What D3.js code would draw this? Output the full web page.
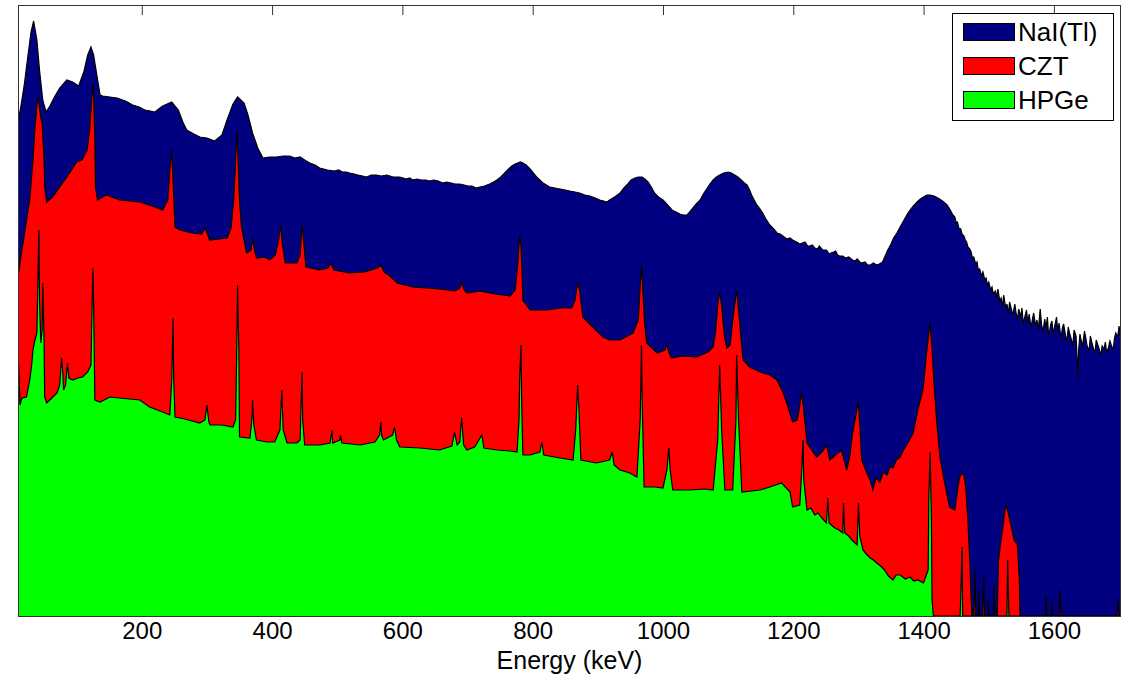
<!DOCTYPE html>
<html>
<head>
<meta charset="utf-8">
<script src="https://cdn.jsdelivr.net/npm/d3@7"></script>
<style>
  html, body { margin: 0; padding: 0; background: #fff; }
  svg { display: block; font-family: "Liberation Sans", Arial, sans-serif; }
</style>
</head>
<body>
<svg id="chart" width="1133" height="680"></svg>
<script>
// energy axis ticks (keV)
const xTicks = [200, 400, 600, 800, 1000, 1200, 1400, 1600];
const seriesNames = ["NaI(Tl)", "CZT", "HPGe"];
const seriesColors = ["#000080", "#ff0000", "#00ff00"];

// spectra: [energy keV, log10 counts]
const naiSpectrum = [
  [10, 4.93], [16, 5.16], [20, 5.33], [25, 5.59], [30, 5.84], [34, 5.95], [39, 5.76], [43, 5.46],
  [48, 5.16], [53, 5.04], [59, 5.10], [66, 5.19], [74, 5.28], [85, 5.36], [94, 5.34], [103, 5.30],
  [111, 5.44], [117, 5.61], [122, 5.69], [126, 5.61], [131, 5.41], [136, 5.21], [140, 5.20],
  [151, 5.19], [162, 5.18], [175, 5.15], [186, 5.11], [196, 5.09], [205, 5.06], [213, 5.05],
  [220, 5.04], [232, 5.10], [246, 5.14], [256, 5.06], [263, 4.94], [269, 4.86], [280, 4.82],
  [289, 4.79], [300, 4.78], [312, 4.75], [323, 4.81], [332, 4.98], [340, 5.12], [347, 5.19],
  [357, 5.13], [363, 5.01], [370, 4.83], [378, 4.68], [386, 4.58], [396, 4.59], [407, 4.59],
  [417, 4.60], [427, 4.60], [435, 4.58], [443, 4.59], [450, 4.56], [458, 4.53], [466, 4.51],
  [473, 4.48], [485, 4.46], [496, 4.45], [502, 4.46], [508, 4.44], [514, 4.44], [519, 4.43],
  [526, 4.42], [532, 4.41], [539, 4.40], [545, 4.39], [552, 4.41], [560, 4.41], [568, 4.40],
  [576, 4.41], [586, 4.39], [596, 4.39], [606, 4.37], [611, 4.38], [616, 4.36], [622, 4.37],
  [629, 4.36], [636, 4.36], [642, 4.35], [648, 4.36], [655, 4.35], [662, 4.33], [668, 4.34],
  [675, 4.33], [681, 4.32], [688, 4.32], [695, 4.31], [701, 4.30], [707, 4.30], [713, 4.28],
  [719, 4.29], [726, 4.30], [734, 4.32], [740, 4.34], [745, 4.36], [751, 4.39], [757, 4.43],
  [763, 4.47], [768, 4.50], [773, 4.52], [777, 4.53], [781, 4.54], [785, 4.53], [790, 4.51],
  [796, 4.47], [801, 4.43], [806, 4.39], [811, 4.36], [816, 4.33], [821, 4.31], [826, 4.29],
  [834, 4.28], [842, 4.27], [850, 4.26], [857, 4.25], [865, 4.24], [872, 4.23], [880, 4.21],
  [888, 4.20], [896, 4.18], [903, 4.16], [909, 4.15], [914, 4.14], [918, 4.16], [923, 4.18],
  [928, 4.20], [934, 4.23], [940, 4.28], [946, 4.32], [951, 4.36], [957, 4.38], [962, 4.39],
  [968, 4.39], [972, 4.37], [977, 4.34], [982, 4.29], [987, 4.23], [993, 4.19], [1000, 4.16],
  [1007, 4.11], [1014, 4.06], [1020, 4.04], [1026, 4.02], [1031, 4.01], [1037, 4.01],
  [1041, 4.04], [1046, 4.08], [1051, 4.12], [1057, 4.16], [1062, 4.22], [1067, 4.27],
  [1072, 4.32], [1077, 4.36], [1082, 4.39], [1087, 4.41], [1093, 4.43], [1100, 4.44],
  [1105, 4.43], [1110, 4.41], [1115, 4.39], [1120, 4.36], [1125, 4.33], [1129, 4.31],
  [1133, 4.26], [1136, 4.21], [1140, 4.16], [1144, 4.11], [1148, 4.08], [1153, 4.03],
  [1158, 3.97], [1164, 3.91], [1170, 3.87], [1175, 3.83], [1180, 3.82], [1184, 3.80],
  [1190, 3.77], [1195, 3.78], [1199, 3.76], [1205, 3.74], [1210, 3.72], [1214, 3.73],
  [1218, 3.74], [1222, 3.70], [1225, 3.70], [1229, 3.71], [1233, 3.68], [1237, 3.67],
  [1240, 3.70], [1245, 3.66], [1251, 3.66], [1255, 3.62], [1258, 3.63], [1262, 3.64],
  [1265, 3.65], [1268, 3.61], [1271, 3.60], [1276, 3.60], [1280, 3.58], [1285, 3.59],
  [1291, 3.56], [1295, 3.55], [1298, 3.57], [1302, 3.54], [1305, 3.53], [1310, 3.54],
  [1314, 3.51], [1318, 3.51], [1323, 3.53], [1328, 3.51], [1332, 3.52], [1337, 3.54],
  [1341, 3.60], [1345, 3.66], [1350, 3.72], [1354, 3.78], [1359, 3.83], [1364, 3.89],
  [1370, 3.96], [1376, 4.03], [1383, 4.09], [1390, 4.14], [1395, 4.17], [1400, 4.19],
  [1405, 4.21], [1410, 4.21], [1416, 4.20], [1422, 4.18], [1429, 4.15], [1436, 4.11],
  [1441, 4.06], [1445, 4.01], [1448, 3.99], [1450, 3.93], [1452, 3.94], [1454, 3.88],
  [1457, 3.87], [1459, 3.82], [1462, 3.80], [1464, 3.76], [1466, 3.74], [1468, 3.69],
  [1471, 3.67], [1473, 3.64], [1475, 3.58], [1477, 3.59], [1480, 3.52], [1482, 3.54],
  [1484, 3.46], [1486, 3.47], [1489, 3.40], [1491, 3.44], [1494, 3.36], [1496, 3.38],
  [1498, 3.31], [1500, 3.34], [1503, 3.26], [1505, 3.29], [1507, 3.22], [1510, 3.25],
  [1512, 3.19], [1514, 3.27], [1517, 3.15], [1519, 3.18], [1521, 3.10], [1523, 3.21],
  [1526, 3.08], [1528, 3.12], [1530, 3.02], [1532, 3.14], [1535, 3.06], [1537, 3.01],
  [1540, 3.12], [1542, 3.03], [1544, 2.96], [1546, 3.07], [1549, 2.99], [1551, 3.08],
  [1553, 2.92], [1555, 2.98], [1558, 3.06], [1560, 2.93], [1562, 3.02], [1565, 2.88],
  [1567, 2.97], [1569, 3.03], [1572, 2.90], [1574, 2.96], [1576, 2.86], [1579, 3.07],
  [1581, 2.92], [1583, 2.84], [1586, 2.97], [1588, 2.88], [1590, 2.99], [1592, 2.79],
  [1595, 2.91], [1597, 2.95], [1599, 2.82], [1601, 2.89], [1604, 2.99], [1606, 2.85],
  [1608, 2.93], [1611, 2.77], [1613, 2.88], [1615, 2.92], [1618, 2.80], [1620, 2.74],
  [1622, 2.89], [1624, 2.83], [1627, 2.76], [1629, 2.70], [1631, 2.86], [1634, 2.80],
  [1636, 2.54], [1637, 2.36], [1638, 2.66], [1640, 2.82], [1642, 2.75], [1644, 2.70],
  [1647, 2.85], [1649, 2.78], [1651, 2.70], [1654, 2.65], [1656, 2.80], [1658, 2.74],
  [1661, 2.67], [1663, 2.63], [1665, 2.76], [1667, 2.72], [1670, 2.66], [1672, 2.60],
  [1674, 2.70], [1677, 2.67], [1679, 2.74], [1681, 2.63], [1684, 2.69], [1686, 2.75],
  [1688, 2.71], [1691, 2.66], [1693, 2.78], [1695, 2.83], [1698, 2.79], [1700, 2.90],
  [1703, 2.77]
];

const cztSpectrum = [
  [10, 3.39], [16, 3.66], [22, 3.91], [28, 4.16], [33, 4.56], [36, 4.89], [39, 5.11], [40, 5.19],
  [42, 5.13], [45, 4.98], [47, 4.93], [50, 4.56], [51, 4.29], [54, 4.14], [63, 4.19], [74, 4.29],
  [85, 4.39], [92, 4.46], [100, 4.54], [108, 4.56], [116, 4.66], [120, 4.86], [123, 5.16],
  [125, 5.33], [126, 5.21], [128, 4.76], [129, 4.29], [132, 4.16], [140, 4.19], [146, 4.21],
  [166, 4.16], [197, 4.14], [220, 4.09], [232, 4.06], [240, 4.16], [243, 4.46], [246, 4.66],
  [247, 4.51], [251, 3.89], [258, 3.86], [278, 3.83], [292, 3.82], [297, 3.88], [302, 3.80],
  [304, 3.76], [331, 3.78], [337, 3.88], [341, 4.16], [344, 4.56], [346, 4.85], [347, 4.71],
  [350, 4.16], [353, 3.89], [361, 3.63], [368, 3.66], [370, 3.78], [373, 3.66], [376, 3.58],
  [389, 3.59], [396, 3.56], [405, 3.61], [410, 3.76], [413, 3.91], [416, 3.71], [420, 3.53],
  [438, 3.53], [443, 3.61], [446, 3.92], [449, 3.71], [452, 3.49], [473, 3.46], [486, 3.48],
  [490, 3.53], [495, 3.46], [519, 3.43], [542, 3.44], [562, 3.48], [567, 3.51], [572, 3.44],
  [581, 3.40], [592, 3.33], [616, 3.29], [657, 3.27], [681, 3.25], [688, 3.28], [691, 3.34],
  [694, 3.27], [699, 3.23], [719, 3.25], [742, 3.22], [765, 3.20], [773, 3.26], [777, 3.51],
  [780, 3.81], [782, 3.71], [785, 3.16], [796, 3.06], [822, 3.06], [842, 3.08], [860, 3.08],
  [865, 3.16], [869, 3.34], [872, 3.26], [877, 2.99], [892, 2.89], [908, 2.79], [918, 2.76],
  [934, 2.76], [954, 2.83], [962, 2.96], [965, 3.31], [967, 3.51], [969, 3.26], [972, 2.91],
  [975, 2.73], [991, 2.63], [1003, 2.66], [1006, 2.72], [1009, 2.64], [1013, 2.58],
  [1030, 2.60], [1052, 2.59], [1069, 2.64], [1077, 2.69], [1081, 2.86], [1084, 3.11],
  [1087, 3.24], [1090, 3.11], [1094, 2.81], [1098, 2.68], [1103, 2.71], [1107, 2.96],
  [1112, 3.21], [1113, 3.26], [1116, 3.06], [1120, 2.76], [1123, 2.56], [1133, 2.49],
  [1149, 2.44], [1164, 2.41], [1175, 2.36], [1184, 2.24], [1190, 2.13], [1199, 1.94],
  [1206, 1.96], [1210, 2.11], [1213, 2.24], [1216, 2.06], [1221, 1.73], [1228, 1.66],
  [1236, 1.59], [1244, 1.64], [1251, 1.71], [1256, 1.56], [1265, 1.61], [1274, 1.66],
  [1282, 1.46], [1287, 1.61], [1291, 1.83], [1296, 2.01], [1300, 2.14], [1305, 1.56],
  [1313, 1.43], [1318, 1.36], [1322, 1.26], [1327, 1.38], [1333, 1.34], [1338, 1.44],
  [1344, 1.41], [1349, 1.50], [1353, 1.48], [1358, 1.56], [1364, 1.59], [1369, 1.66],
  [1374, 1.71], [1384, 1.83], [1391, 2.06], [1399, 2.26], [1405, 2.66], [1410, 2.94],
  [1413, 2.66], [1416, 2.33], [1420, 1.96], [1425, 1.59], [1433, 1.31], [1440, 1.09],
  [1448, 1.06], [1452, 1.26], [1455, 1.38], [1459, 1.43], [1462, 1.41], [1465, 1.26],
  [1468, 0.96], [1471, 0.53], [1474, 0], [1477, 0], [1479, 0.46], [1480, 0], [1484, 0],
  [1485, 0.26], [1486, 0], [1491, 0], [1492, 0.41], [1494, 0], [1498, 0], [1499, 0.16],
  [1500, 0], [1507, 0], [1508, 0.31], [1509, 0], [1513, 0], [1515, 0.56], [1519, 0.76],
  [1523, 0.96], [1526, 1.11], [1529, 1.06], [1534, 0.91], [1539, 0.76], [1544, 0.71],
  [1547, 0.36], [1548, 0], [1587, 0], [1588, 0.21], [1589, 0], [1596, 0], [1597, 0.16],
  [1598, 0], [1608, 0], [1609, 0.26], [1611, 0], [1697, 0], [1698, 0.16], [1700, 0], [1703, 0]
];

const hpgeSpectrum = [
  [10, 2.03], [11, 2.51], [13, 2.11], [16, 2.18], [23, 2.19], [28, 2.36], [31, 2.51], [33, 2.66],
  [36, 2.76], [39, 2.83], [40, 3.16], [42, 3.86], [43, 3.16], [45, 2.73], [47, 2.86], [48, 3.33],
  [50, 2.76], [51, 2.19], [54, 2.13], [62, 2.18], [70, 2.23], [74, 2.31], [77, 2.58], [79, 2.41],
  [80, 2.26], [83, 2.31], [86, 2.53], [88, 2.38], [94, 2.36], [102, 2.38], [109, 2.39],
  [117, 2.44], [122, 2.51], [123, 2.86], [125, 3.48], [126, 3.16], [128, 2.16], [136, 2.14],
  [151, 2.19], [166, 2.18], [197, 2.16], [212, 2.09], [228, 2.05], [243, 2.01], [246, 2.36],
  [248, 2.98], [249, 2.36], [251, 1.99], [266, 1.97], [289, 1.93], [297, 1.96], [300, 2.11],
  [303, 1.94], [305, 1.91], [323, 1.91], [340, 1.89], [344, 1.96], [346, 2.76], [347, 3.31],
  [349, 2.66], [350, 1.79], [366, 1.78], [369, 1.96], [370, 2.16], [372, 1.91], [376, 1.76],
  [392, 1.74], [404, 1.74], [412, 1.86], [415, 2.26], [417, 1.86], [423, 1.73], [438, 1.73],
  [443, 1.76], [446, 2.44], [447, 1.96], [450, 1.71], [473, 1.71], [489, 1.73], [492, 1.86],
  [493, 1.73], [504, 1.76], [505, 1.81], [507, 1.73], [535, 1.71], [558, 1.74], [565, 1.81],
  [567, 1.94], [568, 1.81], [571, 1.76], [585, 1.81], [588, 1.89], [591, 1.76], [596, 1.69],
  [627, 1.68], [657, 1.66], [676, 1.70], [680, 1.84], [684, 1.71], [688, 1.74], [691, 1.98],
  [694, 1.71], [699, 1.66], [711, 1.69], [722, 1.81], [725, 1.68], [745, 1.66], [765, 1.65],
  [776, 1.64], [779, 1.96], [780, 2.36], [782, 2.71], [783, 2.16], [785, 1.61], [796, 1.61],
  [811, 1.64], [814, 1.74], [817, 1.61], [842, 1.58], [862, 1.56], [866, 1.86], [869, 2.31],
  [871, 2.06], [874, 1.56], [898, 1.53], [918, 1.56], [922, 1.64], [925, 1.51], [934, 1.46],
  [949, 1.43], [960, 1.39], [965, 1.96], [967, 2.71], [968, 2.16], [971, 1.29], [987, 1.29],
  [1000, 1.28], [1006, 1.46], [1009, 1.68], [1011, 1.46], [1015, 1.26], [1041, 1.26],
  [1064, 1.27], [1077, 1.26], [1084, 1.76], [1087, 2.51], [1090, 1.86], [1095, 1.26],
  [1107, 1.26], [1112, 1.96], [1113, 2.61], [1116, 1.96], [1121, 1.24], [1149, 1.26],
  [1164, 1.29], [1182, 1.33], [1195, 1.24], [1199, 1.09], [1210, 1.11], [1213, 1.46],
  [1215, 1.76], [1216, 1.36], [1221, 1.06], [1227, 1.08], [1233, 1.01], [1238, 1.03],
  [1244, 0.98], [1251, 0.93], [1253, 1.18], [1255, 0.93], [1260, 0.90], [1264, 0.88],
  [1270, 0.86], [1276, 0.83], [1277, 1.13], [1279, 0.83], [1285, 0.80], [1290, 0.76],
  [1298, 0.71], [1300, 1.13], [1302, 0.80], [1307, 0.66], [1312, 0.62], [1318, 0.58],
  [1323, 0.56], [1328, 0.53], [1334, 0.50], [1340, 0.46], [1346, 0.40], [1353, 0.36],
  [1358, 0.41], [1364, 0.41], [1372, 0.37], [1379, 0.39], [1385, 0.35], [1391, 0.36],
  [1400, 0.33], [1407, 0.46], [1408, 1.16], [1410, 1.64], [1412, 0.96], [1413, 0.16],
  [1415, 0], [1456, 0], [1457, 0.16], [1459, 0.69], [1460, 0], [1528, 0], [1529, 0.56],
  [1531, 0], [1703, 0]
];

const spectra = [naiSpectrum, cztSpectrum, hpgeSpectrum];

const width = 1133, height = 680;
const margin = { top: 5, right: 12, bottom: 64, left: 18 };

const svg = d3.select("#chart");

const x = d3.scaleLinear()
  .domain([10, 1703])
  .range([margin.left, width - margin.right]);

const y = d3.scaleLinear()
  .domain([0, 6.11])
  .range([height - margin.bottom, margin.top]);

const area = d3.area()
  .x((d) => x(d[0]))
  .y0(y(0))
  .y1((d) => y(d[1]));

const line = d3.line()
  .x((d) => x(d[0]))
  .y((d) => y(d[1]));

svg.append("defs").append("clipPath").attr("id", "plot-clip")
  .append("rect")
  .attr("x", margin.left)
  .attr("y", margin.top)
  .attr("width", width - margin.left - margin.right)
  .attr("height", height - margin.top - margin.bottom);

const plot = svg.append("g").attr("clip-path", "url(#plot-clip)");

spectra.forEach((data, i) => {
  plot.append("path")
    .datum(data)
    .attr("d", area)
    .attr("fill", seriesColors[i]);
  plot.append("path")
    .datum(data)
    .attr("d", line)
    .attr("fill", "none")
    .attr("stroke", "#000")
    .attr("stroke-width", 1.2);
});

// frame + inward ticks on top edge
svg.append("rect")
  .attr("x", margin.left + 0.5)
  .attr("y", margin.top + 0.5)
  .attr("width", width - margin.left - margin.right - 1)
  .attr("height", height - margin.top - margin.bottom)
  .attr("fill", "none")
  .attr("stroke", "#333")
  .attr("stroke-width", 1);

svg.append("g")
  .attr("transform", `translate(0,${margin.top})`)
  .call(d3.axisTop(x).tickValues(xTicks).tickSize(-10).tickFormat(""))
  .call((g) => g.select(".domain").remove())
  .selectAll("line").attr("stroke", "#333");

// bottom labels
const bottomAxis = svg.append("g")
  .attr("transform", `translate(0,${height - margin.bottom})`)
  .call(d3.axisBottom(x).tickValues(xTicks).tickSize(0).tickPadding(6).tickFormat(d3.format("d")));
bottomAxis.select(".domain").remove();
bottomAxis.selectAll("text")
  .attr("font-family", "Liberation Sans, Arial, sans-serif")
  .attr("font-size", 24)
  .attr("fill", "#000");

svg.append("text")
  .attr("x", (margin.left + width - margin.right) / 2)
  .attr("y", 669)
  .attr("text-anchor", "middle")
  .attr("font-size", 25)
  .attr("fill", "#000")
  .text("Energy (keV)");

// legend
const legend = svg.append("g").attr("transform", "translate(952,13)");
legend.append("rect")
  .attr("x", 0.5).attr("y", 0.5)
  .attr("width", 161).attr("height", 107)
  .attr("fill", "#fff")
  .attr("stroke", "#000");

seriesNames.forEach((name, i) => {
  const row = legend.append("g").attr("transform", `translate(0,${19 + i * 34})`);
  row.append("rect")
    .attr("x", 11.5).attr("y", -8.5)
    .attr("width", 51).attr("height", 17)
    .attr("fill", seriesColors[i])
    .attr("stroke", "#000");
  row.append("text")
    .attr("x", 66)
    .attr("y", 9)
    .attr("font-size", 26)
    .attr("fill", "#000")
    .text(name);
});
</script>
</body>
</html>
